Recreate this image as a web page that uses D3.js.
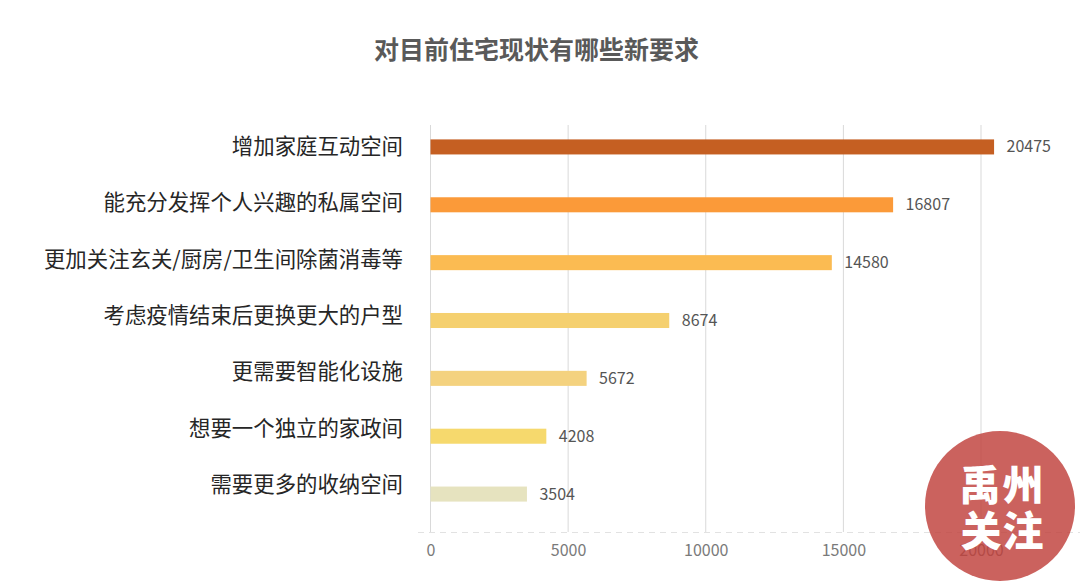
<!DOCTYPE html>
<html>
<head>
<meta charset="utf-8">
<script src="https://cdn.jsdelivr.net/npm/d3@7/dist/d3.min.js"></script>
<style>
html, body { margin: 0; padding: 0; background: #fff; }
svg { display: block; }
text { font-family: "Noto Sans CJK SC", "Noto Sans", sans-serif; }
</style>
</head>
<body>
<svg id="chart" width="1080" height="586"></svg>
<script>
var categories = [
    "增加家庭互动空间",
    "能充分发挥个人兴趣的私属空间",
    "更加关注玄关/厨房/卫生间除菌消毒等",
    "考虑疫情结束后更换更大的户型",
    "更需要智能化设施",
    "想要一个独立的家政间",
    "需要更多的收纳空间"
];
var values = [20475, 16807, 14580, 8674, 5672, 4208, 3504];
var barColors = ["#c55f22", "#fb9a39", "#fbbb52", "#f5d06f", "#f4d27f", "#f6d96d", "#e6e3bf"];
var tickValues = [0, 5000, 10000, 15000, 20000];

var svg = d3.select("#chart");

var x = d3.scaleLinear()
    .domain([0, 20000])
    .range([430.5, 981]);

var y = d3.scaleBand()
    .domain(categories)
    .range([118, 523])
    .paddingInner(0.74)
    .paddingOuter(0.37);

// the labels sit on a slightly tighter spacing than the bars
var labelY = d3.scalePoint()
    .domain(categories)
    .range([147, 485]);

svg.append("text")
    .attr("x", 536.5)
    .attr("y", 59)
    .attr("text-anchor", "middle")
    .attr("font-size", 25)
    .attr("font-weight", 700)
    .attr("fill", "#595959")
    .text("对目前住宅现状有哪些新要求");

// vertical grid lines
svg.selectAll(".grid")
    .data(tickValues)
    .enter().append("line")
    .attr("class", "grid")
    .attr("x1", function(d) { return x(d); })
    .attr("x2", function(d) { return x(d); })
    .attr("y1", 125)
    .attr("y2", 532)
    .attr("stroke", "#d9d9d9")
    .attr("stroke-width", 1);

// dashed baseline + tick labels
var axis = d3.axisBottom(x)
    .tickValues(tickValues)
    .tickSize(0)
    .tickPadding(12)
    .tickFormat(d3.format("d"));

var axisG = svg.append("g")
    .attr("transform", "translate(0,533)")
    .call(axis);

axisG.select(".domain").remove();
axisG.selectAll("text")
    .attr("font-size", 16)
    .attr("font-family", "'Open Sans', sans-serif")
    .attr("fill", "#7a7a7a");

svg.append("line")
    .attr("x1", 418)
    .attr("x2", 1080)
    .attr("y1", 532.5)
    .attr("y2", 532.5)
    .attr("stroke", "#e2e2e2")
    .attr("stroke-dasharray", "6 5");

svg.selectAll(".bar")
    .data(values)
    .enter().append("rect")
    .attr("class", "bar")
    .attr("x", x(0))
    .attr("y", function(d, i) { return y(categories[i]); })
    .attr("width", function(d) { return x(d) - x(0); })
    .attr("height", y.bandwidth())
    .attr("fill", function(d, i) { return barColors[i]; });

svg.selectAll(".val")
    .data(values)
    .enter().append("text")
    .attr("class", "val")
    .attr("x", function(d) { return x(d) + 12.5; })
    .attr("y", function(d, i) { return y(categories[i]) + y.bandwidth() / 2 + 5.5; })
    .attr("font-size", 16)
    .attr("font-family", "'Open Sans', sans-serif")
    .attr("fill", "#555")
    .text(function(d) { return d; });

svg.selectAll(".cat")
    .data(categories)
    .enter().append("text")
    .attr("class", "cat")
    .attr("x", 403)
    .attr("y", function(d) { return labelY(d) + 7; })
    .attr("text-anchor", "end")
    .attr("font-size", 21.4)
    .attr("fill", "#262626")
    .text(function(d) { return d; });

// watermark
var mark = svg.append("g");
mark.append("circle")
    .attr("cx", 1000)
    .attr("cy", 506)
    .attr("r", 75)
    .attr("fill", "#bf3f3a")
    .attr("fill-opacity", 0.82);

var markText = [["禹", 980, 500], ["州", 1023, 500], ["关", 981, 546], ["注", 1023, 546]];
mark.selectAll(".mark")
    .data(markText)
    .enter().append("text")
    .attr("class", "mark")
    .attr("x", function(d) { return d[1]; })
    .attr("y", function(d) { return d[2]; })
    .attr("text-anchor", "middle")
    .attr("font-size", 41)
    .attr("font-weight", 900)
    .attr("fill", "#fff")
    .text(function(d) { return d[0]; });
</script>
</body>
</html>
